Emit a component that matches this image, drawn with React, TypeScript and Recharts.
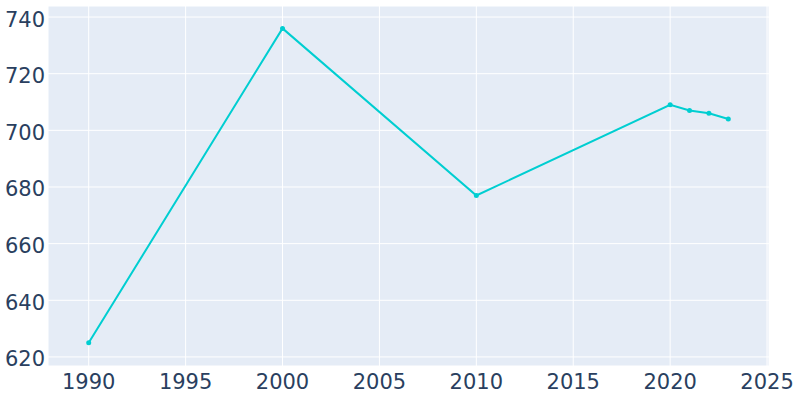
import { LineChart, Line, XAxis, YAxis, CartesianGrid } from 'recharts';

const years = [1990, 2000, 2010, 2020, 2021, 2022, 2023];
const population = [625, 736, 677, 709, 707, 706, 704];
const xTicks = [1990, 1995, 2000, 2005, 2010, 2015, 2020, 2025];
const yTicks = [620, 640, 660, 680, 700, 720, 740];

const data = years.map((year, i) => ({ year, value: population[i] }));

const TICK_STYLE = { fill: '#2a3f5f', fontSize: 21, fontFamily: 'DejaVu Sans' };

const App = () => {
  return (
    <div style={{ width: 800, height: 400 }}>
      <style>{`body { margin: 0; }`}</style>
      <LineChart
        width={800}
        height={400}
        data={data}
        margin={{ top: 6, right: 31, left: 0, bottom: 0 }}
      >
        <CartesianGrid fill="#E5ECF6" stroke="#ffffff" strokeWidth={1} />
        <XAxis
          dataKey="year"
          type="number"
          domain={[1987.9, 2025.1]}
          ticks={xTicks}
          allowDataOverflow
          axisLine={false}
          tickLine={false}
          tickSize={0}
          tickMargin={8}
          height={34}
          tick={TICK_STYLE}
        />
        <YAxis
          type="number"
          domain={[616.8, 743.9]}
          ticks={yTicks}
          allowDataOverflow
          axisLine={false}
          tickLine={false}
          tickSize={0}
          tickMargin={3}
          width={48}
          tick={{ ...TICK_STYLE, dy: 2 }}
        />
        <Line
          dataKey="value"
          stroke="#00CED1"
          strokeWidth={2}
          dot={{ r: 2.5, fill: '#00CED1', stroke: '#00CED1', strokeWidth: 0 }}
          activeDot={false}
          isAnimationActive={false}
        />
      </LineChart>
    </div>
  );
};

export default App;
